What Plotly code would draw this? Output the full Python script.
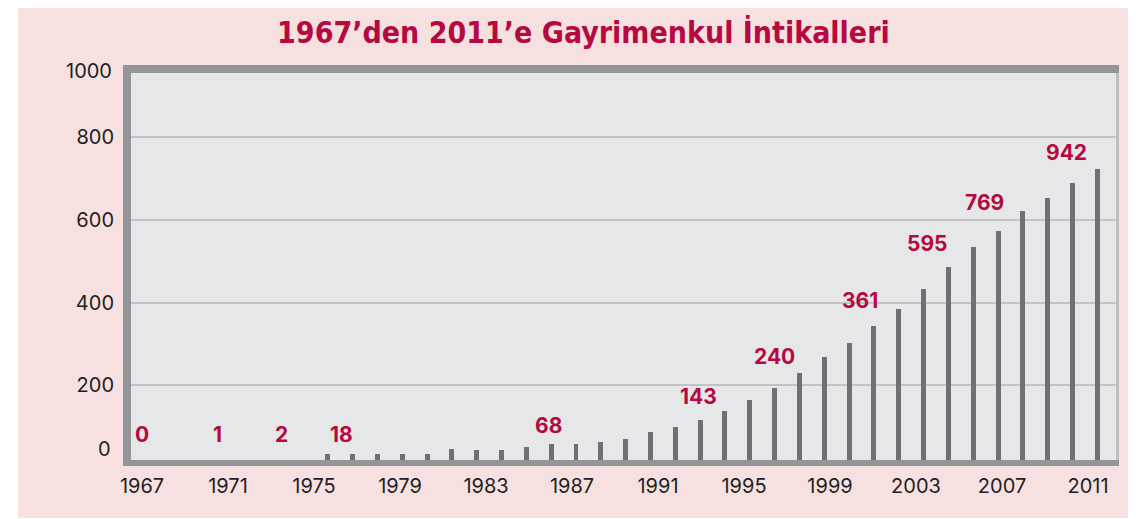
import plotly.graph_objects as go

# ---------------- data ----------------
bar_years = list(range(1980, 2012))
bar_values = [33, 33, 33, 33, 35, 46, 43, 43, 51, 59, 59, 63, 71, 86, 100, 116,
              138, 165, 193, 229, 268, 302, 344, 384, 432, 487, 535, 573, 622, 654,
              690, 723]
tick_years = list(range(1967, 2012, 4))
y_grid_ticks = [200, 400, 600, 800]
label_texts = ["0", "1", "2", "18", "68", "143", "240", "361", "595", "769", "942"]
label_years = [1967, 1970.5, 1973.5, 1976.3, 1985.9, 1992.9, 1996.4, 2000.4, 2003.5, 2006.2, 2010.0]
label_heights = [80, 80, 80, 80, 102, 172, 269, 406, 542, 642, 764]
title_text = "1967’den 2011’e Gayrimenkul İntikalleri"

# ---------------- style ----------------
PINK = "#f7e1e0"
FRAME = "#939598"
INNER = "#e6e7e8"
GRID = "#c2c3c5"
BAR = "#6f7073"
RED = "#b5093f"
TXT = "#231f20"
FONT = "Inter"

OFF = 8  # page body margin
WIN_W, WIN_H = 1136, 519
W, H = WIN_W - OFF, WIN_H - OFF
PL, PR, PT, PB = 131, 1116, 73, 460  # plot area in window pixels
L, R, T, B = PL - OFF, WIN_W - PR, PT - OFF, WIN_H - PB
PW, PH = PR - PL, PB - PT


def px_x(p):
    return (p - PL) / PW


def px_y(p):
    return (PB - p) / PH


fig = go.Figure()
fig.add_trace(go.Bar(x=bar_years, y=bar_values, width=0.2, marker_color=BAR,
                     marker_line_width=0, xaxis="x", yaxis="y",
                     showlegend=False, hoverinfo="x+y"))
fig.add_trace(go.Scatter(x=tick_years, y=[None] * len(tick_years), xaxis="x2", yaxis="y",
                         mode="markers", showlegend=False, hoverinfo="skip"))

shapes = [
    dict(type="rect", xref="paper", yref="paper", x0=px_x(18), x1=px_x(1140),
         y0=px_y(518), y1=px_y(0), fillcolor=PINK, line_width=0, layer="below"),
    dict(type="rect", xref="paper", yref="paper", x0=0, x1=1, y0=0, y1=1,
         fillcolor=INNER, line_width=0, layer="below"),
    # frame strips
    dict(type="rect", xref="paper", yref="paper", x0=px_x(123), x1=px_x(1119),
         y0=1, y1=px_y(65), fillcolor=FRAME, line_width=0, layer="above"),
    dict(type="rect", xref="paper", yref="paper", x0=px_x(123), x1=px_x(1119),
         y0=px_y(466), y1=0, fillcolor=FRAME, line_width=0, layer="above"),
    dict(type="rect", xref="paper", yref="paper", x0=px_x(123), x1=0,
         y0=px_y(466), y1=px_y(65), fillcolor=FRAME, line_width=0, layer="above"),
    dict(type="rect", xref="paper", yref="paper", x0=1, x1=px_x(1119),
         y0=0, y1=1, fillcolor="#bcbec0", line_width=0, layer="above"),
]

annotations = []
for t, yr, h in zip(label_texts, label_years, label_heights):
    annotations.append(dict(x=yr, y=h, xref="x2", yref="y", text=t, showarrow=False,
                            xanchor="center", yanchor="middle",
                            font=dict(family=FONT, size=21, color=RED, weight="bold")))
# y-axis end labels
annotations.append(dict(x=px_x(113), y=px_y(449.3), xref="paper", yref="paper", text="0",
                        showarrow=False, xanchor="right", yanchor="middle",
                        font=dict(family=FONT, size=20, color=TXT)))
annotations.append(dict(x=px_x(114), y=px_y(70.7), xref="paper", yref="paper", text="1000",
                        showarrow=False, xanchor="right", yanchor="middle",
                        font=dict(family=FONT, size=20, color=TXT)))

fig.update_layout(
    width=W, height=H,
    margin=dict(l=L, r=R, t=T, b=B, autoexpand=False),
    paper_bgcolor="white",
    plot_bgcolor=INNER,
    title=dict(text=title_text, x=(583.4 - OFF) / W, y=1 - (32.5 - OFF) / H,
               xref="container", yref="container",
               xanchor="center", yanchor="middle",
               font=dict(family="DejaVu Sans Condensed, Roboto", size=30, color=RED,
                         weight="bold")),
    xaxis=dict(range=[1972.078, 2011.749], showticklabels=False, showgrid=False,
               zeroline=False, showline=False, ticks=""),
    xaxis2=dict(overlaying="x", side="bottom", range=[1966.488, 2012.302],
                tickvals=tick_years, ticktext=[str(y) for y in tick_years],
                showgrid=False, zeroline=False, showline=False, ticks="",
                ticklabelstandoff=12, tickfont=dict(family=FONT, size=20, color=TXT)),
    yaxis=dict(range=[19.35, 955.6], tickvals=y_grid_ticks,
               ticktext=[str(v) for v in y_grid_ticks],
               showgrid=True, gridcolor=GRID, gridwidth=1.5, zeroline=False,
               showline=False, ticks="", ticklabelstandoff=16,
               tickfont=dict(family=FONT, size=20, color=TXT)),
    shapes=shapes,
    annotations=annotations,
    bargap=0,
)

fig.write_html("out.html")
